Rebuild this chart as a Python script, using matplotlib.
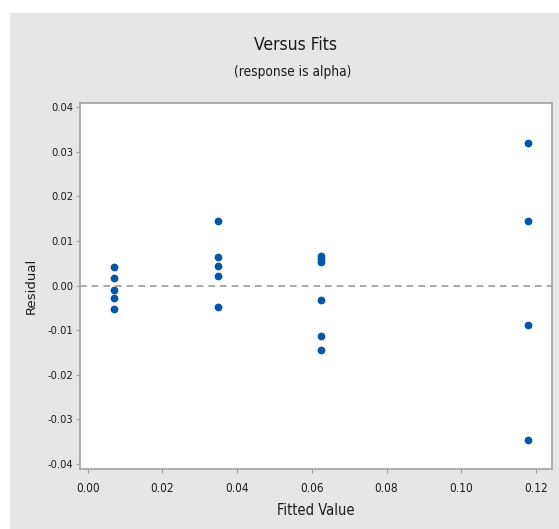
import numpy as np
import matplotlib.pyplot as plt
from matplotlib.patches import Rectangle

# fitted values and residuals
fitted = [0.0071, 0.0071, 0.0071, 0.0071, 0.0071,
          0.0348, 0.0348, 0.0348, 0.0348, 0.0348,
          0.0624, 0.0624, 0.0624, 0.0624, 0.0624, 0.0624,
          0.118, 0.118, 0.118, 0.118]
residual = [0.0041, 0.0017, -0.0011, -0.0029, -0.0052,
            0.0144, 0.0063, 0.0043, 0.0022, -0.0048,
            0.0066, 0.0060, 0.0053, -0.0033, -0.0114, -0.0144,
            0.0320, 0.0144, -0.0088, -0.0345]
xticks = [0.00, 0.02, 0.04, 0.06, 0.08, 0.10, 0.12]
yticks = [-0.04, -0.03, -0.02, -0.01, 0.00, 0.01, 0.02, 0.03, 0.04]

narrow = dict(family='DejaVu Sans', stretch='condensed')

fig = plt.figure(figsize=(5.59, 5.29), dpi=100, facecolor='white')
fig.patches.append(Rectangle((10 / 559, 0), 1, 1 - 13 / 529, transform=fig.transFigure,
                             facecolor='#e6e6e6', edgecolor='none', zorder=-1))
ax = fig.add_axes([80 / 559, 60 / 529, 472 / 559, 366 / 529])
ax.set_facecolor('white')

ax.axhline(0, color='#9a9a9a', lw=1.2, ls=(0, (4, 3)), zorder=1)
ax.plot(fitted, residual, 'o', color='#0556a6', ms=5.6, mec='none', zorder=3)

ax.set_xlim(-0.00206, 0.1243)
ax.set_ylim(-0.0411, 0.0409)
ax.set_xticks(xticks)
ax.set_yticks(yticks)
ax.set_xticklabels(['%.2f' % v for v in xticks], fontsize=8.5, **narrow)
ax.set_yticklabels(['%.2f' % v for v in yticks], fontsize=8, **narrow)
ax.tick_params(direction='out', length=3, color='#a0a0a0', pad=2, labelcolor='#1a1a1a')
ax.tick_params(axis='x', pad=6)
for s in ax.spines.values():
    s.set_color('#a8a8a8')
    s.set_linewidth(1.3)

ax.set_xlabel('Fitted Value', fontsize=10.5, color='#1a1a1a', labelpad=6, **narrow)
ax.set_ylabel('Residual', family='DejaVu Sans', fontsize=9.5, color='#1a1a1a', labelpad=7)
fig.text(296 / 559, 1 - 45 / 529, 'Versus Fits', fontsize=12.5,
         ha='center', va='center', color='#1a1a1a', **narrow)
fig.text(293 / 559, 1 - 72 / 529, '(response is alpha)', fontsize=9.8,
         ha='center', va='center', color='#1a1a1a', **narrow)

fig.savefig('out.png', dpi=100, facecolor=fig.get_facecolor())
